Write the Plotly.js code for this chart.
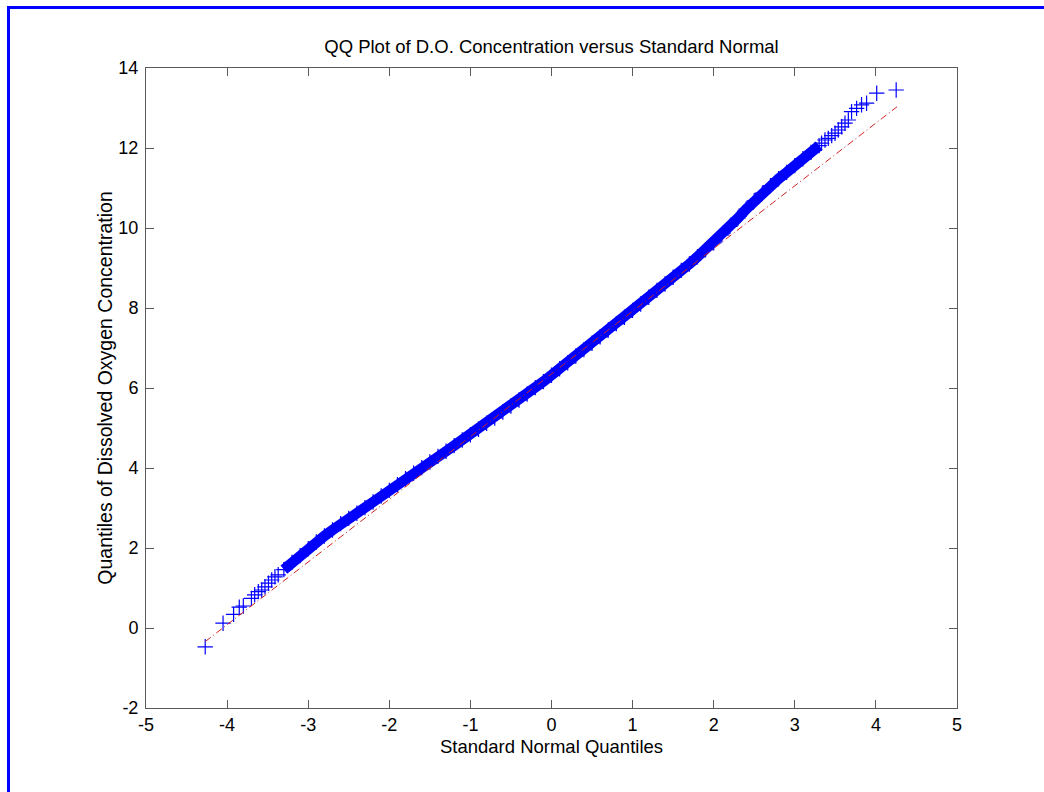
<!DOCTYPE html>
<html>
<head>
<meta charset="utf-8">
<script src="https://cdn.plot.ly/plotly-3.0.1.min.js"></script>
<style>
  html, body { margin: 0; padding: 0; background: #fff; }
  #wrap { position: relative; width: 1044px; height: 792px; overflow: hidden; }
  #chart { position: absolute; left: 0; top: 0; width: 1044px; height: 792px; }
  #frame { position: absolute; left: 7px; top: 6px; width: 1100px; height: 900px;
           border-left: 3px solid #0000ff; border-top: 3px solid #0000ff; pointer-events: none; }
</style>
</head>
<body>
<div id="wrap">
  <div id="chart"></div>
  <div id="frame"></div>
</div>
<script>
// Lower tail (sparse markers)
const lowTailX = [-4.27, -4.05, -3.92, -3.85, -3.80, -3.70, -3.66, -3.615, -3.573, -3.533, -3.49, -3.45, -3.41, -3.37];
const lowTailY = [-0.47, 0.12, 0.34, 0.52, 0.55, 0.74, 0.83, 0.91, 0.95, 1.03, 1.12, 1.20, 1.28, 1.33];

// Dense central band
const bandX = [-3.3,-3.2,-3.1,-3.0,-2.9,-2.8,-2.7,-2.6,-2.5,-2.4,-2.3,-2.2,-2.1,-2.0,-1.9,-1.8,-1.7,-1.6,-1.5,-1.4,-1.3,-1.2,-1.1,-1.0,-0.9,-0.8,-0.7,-0.6,-0.5,-0.4,-0.3,-0.2,-0.1,0.0,0.1,0.2,0.3,0.4,0.5,0.6,0.7,0.8,0.9,1.0,1.1,1.2,1.3,1.4,1.5,1.6,1.7,1.8,1.9,2.0,2.1,2.2,2.3,2.4,2.5,2.6,2.7,2.8,2.9,3.0,3.1,3.2,3.3];
const bandY = [1.46,1.64,1.81,1.98,2.15,2.30,2.45,2.61,2.74,2.87,3.01,3.15,3.30,3.44,3.58,3.73,3.87,4.01,4.15,4.29,4.42,4.56,4.70,4.83,4.97,5.12,5.25,5.40,5.55,5.70,5.85,6.01,6.16,6.32,6.48,6.63,6.80,6.96,7.12,7.28,7.45,7.61,7.77,7.94,8.10,8.27,8.44,8.60,8.77,8.94,9.10,9.28,9.46,9.63,9.83,10.04,10.25,10.47,10.68,10.87,11.06,11.23,11.39,11.56,11.73,11.89,12.06];

// Upper tail (sparse markers)
const highTailX = [3.33, 3.372, 3.413, 3.455, 3.496, 3.536, 3.578, 3.619, 3.66, 3.70, 3.762, 3.823, 3.885, 4.01, 4.25];
const highTailY = [12.12, 12.20, 12.24, 12.31, 12.37, 12.45, 12.53, 12.62, 12.70, 12.91, 12.99, 13.08, 13.12, 13.37, 13.45];

// Reference line (through quartiles, extended over data range)
const refLineX = [-4.27, 4.26];
const refLineY = [-0.34, 13.03];

const xTicks = [-5, -4, -3, -2, -1, 0, 1, 2, 3, 4, 5];
const yTicks = [-2, 0, 2, 4, 6, 8, 10, 12, 14];

const titleText = 'QQ Plot of D.O. Concentration versus Standard Normal';
const xTitleText = 'Standard Normal Quantiles';
const yTitleText = 'Quantiles of Dissolved Oxygen Concentration';

const allX = lowTailX.concat(bandX, highTailX);
const allY = lowTailY.concat(bandY, highTailY);

const blue = '#0000ff';
const fontFam = '"Liberation Sans", Arial, sans-serif';

const traces = [
  {
    x: bandX, y: bandY, type: 'scatter', mode: 'lines',
    line: { color: blue, width: 10.5 }, hoverinfo: 'skip', showlegend: false
  },
  {
    x: allX, y: allY, type: 'scatter', mode: 'markers',
    marker: { symbol: 'cross-thin', size: 11, color: blue, line: { color: blue, width: 1.2 } },
    showlegend: false
  },
  {
    x: refLineX, y: refLineY, type: 'scatter', mode: 'lines',
    line: { color: '#cc2222', width: 1, dash: '7px,3px,1px,3px' }, showlegend: false
  }
];

const axisCommon = {
  showgrid: false, zeroline: false, showline: true, linecolor: '#5a5a5a', linewidth: 1,
  ticks: 'inside', ticklen: 8, tickcolor: '#5a5a5a', tickwidth: 1, mirror: 'ticks',
  tickfont: { family: fontFam, size: 18, color: '#000' }
};

const layout = {
  width: 1044, height: 792, autosize: false,
  margin: { l: 146, r: 87, t: 68, b: 84 },
  paper_bgcolor: '#ffffff', plot_bgcolor: '#ffffff',
  font: { family: fontFam, color: '#000' },
  title: { text: titleText, font: { family: fontFam, size: 18.5, color: '#000' },
           xref: 'paper', x: 0.5, xanchor: 'center',
           yref: 'container', y: 1 - 47 / 792, yanchor: 'middle' },
  xaxis: Object.assign({}, axisCommon, {
    range: [-5, 5], tickvals: xTicks, ticktext: xTicks.map(String),
    title: { text: xTitleText, font: { family: fontFam, size: 18.5, color: '#000' }, standoff: 6 }
  }),
  yaxis: Object.assign({}, axisCommon, {
    range: [-2, 14], tickvals: yTicks, ticktext: yTicks.map(String),
    ticklabelstandoff: 3,
    title: { text: yTitleText, font: { family: fontFam, size: 19.5, color: '#000' }, standoff: 0 }
  }),
  showlegend: false
};

Plotly.newPlot('chart', traces, layout, { displayModeBar: false, staticPlot: true });
</script>
</body>
</html>
